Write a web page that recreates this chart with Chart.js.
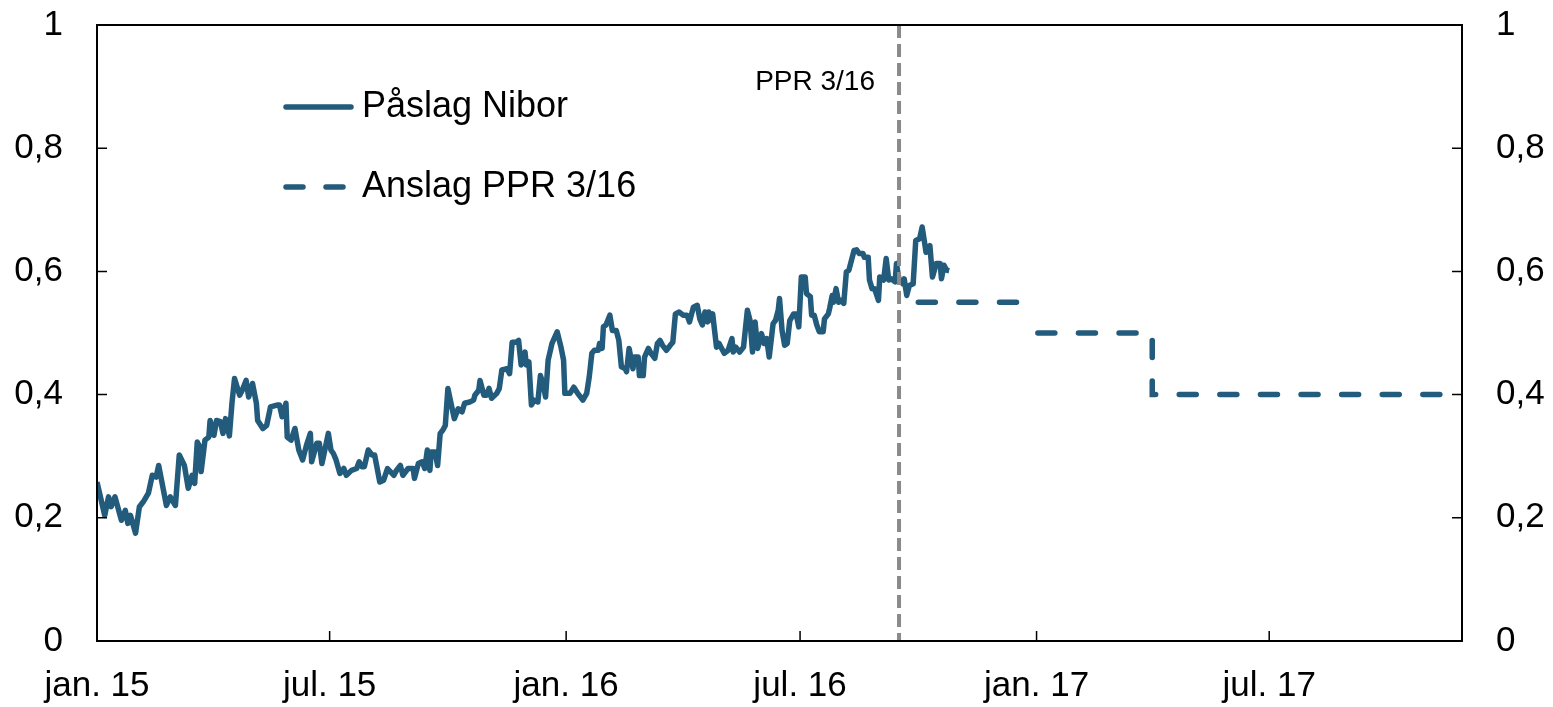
<!DOCTYPE html>
<html>
<head>
<meta charset="utf-8">
<script src="https://cdn.jsdelivr.net/npm/chart.js@4.4.0/dist/chart.umd.min.js"></script>
<style>
  html, body { margin: 0; padding: 0; background: #fff; }
  #wrap { width: 1553px; height: 707px; }
</style>
</head>
<body>
<div id="wrap"><canvas id="chart" width="1553" height="707"></canvas></div>
<script>
// x values are days counted from 1 Jan 2015
const niborDays = [
  0, 2, 6, 9, 11, 14, 19, 22, 24, 26, 30, 33, 36, 40, 43, 46, 48, 54, 57, 61,
  64, 68, 71, 74, 76, 78, 80, 81, 84, 87, 88, 91, 93, 96, 98, 100, 103, 105, 107, 111,
  113, 116, 118, 121, 124, 125, 129, 132, 135, 140, 142, 144, 147, 148, 151, 154, 157, 160, 163, 166,
  167, 171, 173, 175, 180, 182, 184, 186, 189, 192, 194, 198, 202, 204, 206, 208, 211, 214, 216, 220,
  223, 226, 231, 233, 236, 238, 242, 246, 247, 250, 253, 255, 257, 259, 260, 263, 265, 267, 269, 271,
  273, 276, 278, 281, 284, 286, 290, 293, 294, 297, 298, 301, 303, 305, 307, 311, 313, 315, 319, 321,
  323, 326, 328, 330, 333, 334, 336, 338, 340, 343, 345, 347, 349, 351, 354, 358, 361, 363, 364, 368,
  371, 374, 378, 381, 383, 385, 387, 390, 391, 393, 394, 396, 399, 401, 404, 406, 408, 411, 412, 414,
  415, 417, 418, 421, 422, 425, 426, 429, 431, 434, 436, 438, 440, 443, 446, 448, 450, 453, 456, 459,
  461, 464, 467, 469, 471, 473, 475, 476, 478, 479, 482, 484, 486, 488, 491, 494, 495, 497, 500, 503,
  506, 508, 510, 512, 514, 517, 519, 521, 523, 526, 528, 530, 531, 533, 535, 537, 539, 542, 544, 546,
  548, 551, 552, 555, 556, 558, 560, 562, 565, 566, 569, 570, 572, 573, 575, 577, 579, 581, 583, 585,
  589, 591, 593, 596, 597, 600, 601, 603, 605, 608, 609, 612, 614, 616, 618, 621, 622, 624, 627, 628,
  630, 632, 635, 637, 640, 642, 644, 645, 648, 650, 653, 656, 657, 659, 661, 663
];
const niborValues = [
  0.258, 0.240, 0.204, 0.234, 0.218, 0.234, 0.196, 0.212, 0.191, 0.204, 0.175, 0.218, 0.226, 0.240, 0.269, 0.266, 0.285, 0.220, 0.234, 0.220,
  0.302, 0.285, 0.248, 0.269, 0.256, 0.323, 0.315, 0.275, 0.326, 0.331, 0.358, 0.334, 0.358, 0.356, 0.337, 0.361, 0.333, 0.386, 0.426, 0.399,
  0.407, 0.423, 0.396, 0.418, 0.386, 0.358, 0.345, 0.350, 0.380, 0.383, 0.383, 0.364, 0.386, 0.331, 0.326, 0.345, 0.310, 0.294, 0.318, 0.337,
  0.291, 0.321, 0.321, 0.288, 0.337, 0.310, 0.304, 0.294, 0.272, 0.280, 0.269, 0.277, 0.280, 0.291, 0.283, 0.283, 0.310, 0.302, 0.302, 0.258,
  0.261, 0.280, 0.269, 0.277, 0.285, 0.269, 0.280, 0.280, 0.264, 0.288, 0.291, 0.280, 0.310, 0.277, 0.307, 0.307, 0.285, 0.337, 0.342, 0.350,
  0.410, 0.380, 0.361, 0.377, 0.372, 0.386, 0.388, 0.391, 0.399, 0.407, 0.423, 0.399, 0.399, 0.410, 0.394, 0.402, 0.410, 0.440, 0.442, 0.434,
  0.485, 0.485, 0.488, 0.448, 0.469, 0.448, 0.453, 0.383, 0.391, 0.388, 0.431, 0.418, 0.396, 0.456, 0.483, 0.502, 0.477, 0.456, 0.402, 0.402,
  0.412, 0.402, 0.391, 0.402, 0.429, 0.467, 0.472, 0.472, 0.483, 0.475, 0.510, 0.513, 0.529, 0.504, 0.504, 0.488, 0.445, 0.442, 0.437, 0.475,
  0.464, 0.442, 0.461, 0.461, 0.431, 0.431, 0.461, 0.475, 0.467, 0.459, 0.483, 0.488, 0.480, 0.472, 0.480, 0.485, 0.531, 0.534, 0.529, 0.529,
  0.518, 0.542, 0.545, 0.523, 0.513, 0.534, 0.518, 0.534, 0.521, 0.531, 0.477, 0.483, 0.475, 0.467, 0.472, 0.491, 0.469, 0.477, 0.469, 0.477,
  0.537, 0.521, 0.469, 0.518, 0.475, 0.499, 0.483, 0.491, 0.461, 0.515, 0.521, 0.537, 0.556, 0.504, 0.480, 0.483, 0.520, 0.531, 0.531, 0.510,
  0.591, 0.591, 0.564, 0.559, 0.529, 0.529, 0.513, 0.502, 0.502, 0.523, 0.531, 0.540, 0.561, 0.550, 0.572, 0.550, 0.553, 0.548, 0.599, 0.602,
  0.634, 0.635, 0.629, 0.629, 0.623, 0.623, 0.586, 0.572, 0.572, 0.553, 0.591, 0.586, 0.621, 0.586, 0.588, 0.583, 0.613, 0.586, 0.580, 0.588,
  0.561, 0.577, 0.580, 0.650, 0.653, 0.672, 0.645, 0.631, 0.642, 0.591, 0.613, 0.613, 0.588, 0.610, 0.602, 0.601
];
// forecast: 0.55 in Q4 2016, break on 1 Jan, 0.5 in Q1 2017, 0.4 from April 2017
const forecastDays = [639, 730, 731, 732, 821, 821, 1062];
const forecastValues = [0.55, 0.55, null, 0.50, 0.50, 0.40, 0.40];
const xTickDays = [0, 181, 365, 547, 731, 912];
const xTickLabels = ['jan. 15', 'jul. 15', 'jan. 16', 'jul. 16', 'jan. 17', 'jul. 17'];
const yTicks = [0, 0.2, 0.4, 0.6, 0.8, 1];
const pprDay = 624;

const blue = '#225b7b';
const font = "'Liberation Sans', Arial, sans-serif";

function fmt(v) {
  return String(Math.round(v * 10) / 10).replace('.', ',');
}

const extras = {
  id: 'extras',
  afterDatasetsDraw(chart) {
    const { ctx, chartArea: a, scales } = chart;
    const x = scales.x.getPixelForValue(pprDay);
    ctx.save();
    ctx.strokeStyle = '#8a8a8a';
    ctx.lineWidth = 4;
    ctx.setLineDash([13, 6]);
    ctx.beginPath();
    ctx.moveTo(x, a.top);
    ctx.lineTo(x, a.bottom);
    ctx.stroke();
    ctx.restore();
  },
  afterDraw(chart) {
    const { ctx, chartArea: a, scales } = chart;
    ctx.save();
    // frame and inward ticks
    ctx.strokeStyle = '#000';
    ctx.lineWidth = 2;
    ctx.strokeRect(a.left, a.top, a.right - a.left, a.bottom - a.top);
    ctx.lineWidth = 1.5;
    ctx.beginPath();
    yTicks.forEach(v => {
      const y = scales.y.getPixelForValue(v);
      ctx.moveTo(a.left, y); ctx.lineTo(a.left + 10, y);
      ctx.moveTo(a.right, y); ctx.lineTo(a.right - 10, y);
    });
    xTickDays.forEach(d => {
      const px = scales.x.getPixelForValue(d);
      ctx.moveTo(px, a.bottom); ctx.lineTo(px, a.bottom - 10);
    });
    ctx.stroke();

    // annotation
    ctx.fillStyle = '#000';
    ctx.font = '28px ' + font;
    ctx.textAlign = 'right';
    ctx.textBaseline = 'middle';
    ctx.fillText('PPR 3/16', 875, 82);

    // legend
    ctx.strokeStyle = blue;
    ctx.lineWidth = 5.5;
    ctx.lineCap = 'round';
    ctx.beginPath();
    ctx.moveTo(286, 107); ctx.lineTo(351, 107);
    ctx.stroke();
    ctx.beginPath();
    ctx.moveTo(286, 187); ctx.lineTo(303, 187);
    ctx.moveTo(326, 187); ctx.lineTo(343, 187);
    ctx.stroke();
    ctx.font = '36px ' + font;
    ctx.textAlign = 'left';
    ctx.fillText('Påslag Nibor', 362, 107);
    ctx.fillText('Anslag PPR 3/16', 362, 187);
    ctx.restore();
  }
};

const tickFont = { family: font, size: 35 };

function fitY(width) {
  return s => { s.width = width; s.paddingTop = 0; s.paddingBottom = 0; };
}

new Chart(document.getElementById('chart'), {
  type: 'line',
  data: {
    datasets: [
      {
        label: 'Påslag Nibor',
        data: niborDays.map((d, i) => ({ x: d, y: niborValues[i] })),
        borderColor: blue,
        borderWidth: 5.5,
        pointRadius: 0,
        tension: 0,
        borderJoinStyle: 'round',
        yAxisID: 'y'
      },
      {
        label: 'Anslag PPR 3/16',
        data: forecastDays.map((d, i) => ({ x: d, y: forecastValues[i] })),
        borderColor: blue,
        borderWidth: 5.5,
        borderDash: [17, 23.6],
        borderCapStyle: 'round',
        spanGaps: false,
        pointRadius: 0,
        yAxisID: 'y'
      }
    ]
  },
  options: {
    responsive: false,
    animation: false,
    layout: { padding: { top: 25, left: 0, right: 0, bottom: 0 } },
    plugins: { legend: { display: false }, tooltip: { enabled: false } },
    scales: {
      x: {
        type: 'linear',
        min: 0,
        max: 1062,
        afterBuildTicks: s => { s.ticks = xTickDays.map(v => ({ value: v })); },
        afterFit: s => { s.height = 66; s.paddingLeft = 0; s.paddingRight = 0; },
        grid: { display: false, drawTicks: false },
        border: { display: false },
        ticks: {
          autoSkip: false,
          maxRotation: 0,
          padding: 24,
          color: '#000',
          font: tickFont,
          callback: (v, i) => xTickLabels[i]
        }
      },
      y: {
        position: 'left',
        min: 0,
        max: 1,
        afterBuildTicks: s => { s.ticks = yTicks.map(v => ({ value: v })); },
        afterFit: fitY(97),
        grid: { display: false, drawTicks: false },
        border: { display: false },
        ticks: { padding: 34, color: '#000', font: tickFont, callback: v => fmt(v) }
      },
      y2: {
        position: 'right',
        min: 0,
        max: 1,
        afterBuildTicks: s => { s.ticks = yTicks.map(v => ({ value: v })); },
        afterFit: fitY(91),
        grid: { display: false, drawTicks: false },
        border: { display: false },
        ticks: { padding: 34, color: '#000', font: tickFont, callback: v => fmt(v) }
      }
    }
  },
  plugins: [extras]
});
</script>
</body>
</html>
